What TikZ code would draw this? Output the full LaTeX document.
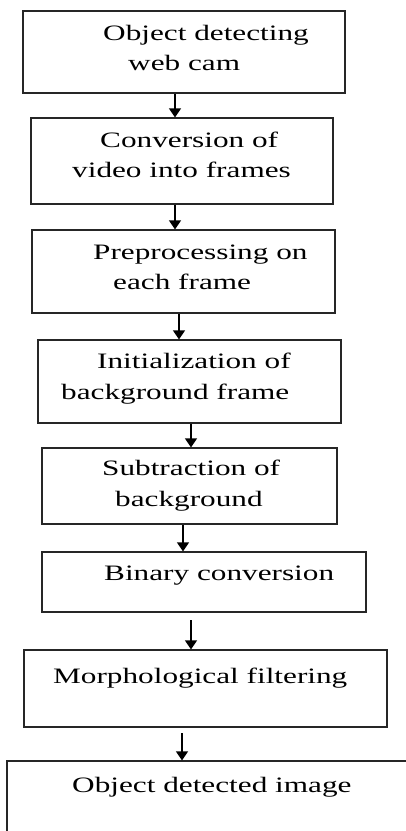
\documentclass[tikz,border=0pt]{standalone}
\usepackage{fontspec}
\setmainfont{Liberation Serif}[FakeStretch=1.42]
\usetikzlibrary{arrows.meta}
\begin{document}
\begin{tikzpicture}[x=1pt,y=-1pt,
  box/.style={draw=black!85, line width=1.2pt, rectangle, inner sep=0pt},
  lbl/.style={anchor=base west, inner sep=0pt, font=\fontsize{22}{26}\selectfont},
  arr/.style={draw=black, line width=1.2pt, -{Triangle[width=12pt,length=9pt]}}]
\clip (0,0) rectangle (406,831);
\useasboundingbox (0,0) rectangle (406,831);

% process boxes
\node[box, minimum width=322pt, minimum height=82pt] (b1) at (184,52) {};
\node[box, minimum width=302pt, minimum height=86pt] (b2) at (182,161) {};
\node[box, minimum width=303pt, minimum height=83pt] (b3) at (183.5,271.5) {};
\node[box, minimum width=303pt, minimum height=83pt] (b4) at (189.5,381.5) {};
\node[box, minimum width=295pt, minimum height=76pt] (b5) at (189.5,486) {};
\node[box, minimum width=324pt, minimum height=60pt] (b6) at (204,582) {};
\node[box, minimum width=363pt, minimum height=77pt] (b7) at (205.5,688.5) {};
\node[box, minimum width=423pt, minimum height=100pt] (b8) at (218.5,811) {};

% labels
\node[lbl] (t1a) at (103,40) {Object detecting};
\node[lbl] (t1b) at (128,70) {web cam};
\node[lbl] (t2a) at (100,147) {Conversion of};
\node[lbl] (t2b) at (72,177) {video into frames};
\node[lbl] (t3a) at (93,259) {Preprocessing on};
\node[lbl] (t3b) at (113,289) {each frame};
\node[lbl] (t4a) at (97,368) {Initialization of};
\node[lbl] (t4b) at (61,399) {background frame};
\node[lbl] (t5a) at (102,475) {Subtraction of};
\node[lbl] (t5b) at (115,506) {background};
\node[lbl] (t6) at (104,580) {Binary conversion};
\node[lbl] (t7) at (53,683) {Morphological filtering};
\node[lbl] (t8) at (72,792) {Object detected image};

% arrow columns
\coordinate (c1) at (175,0);
\coordinate (c3) at (179,0);
\coordinate (c4) at (191,0);
\coordinate (c5) at (183,0);
\coordinate (c7) at (182,0);
\coordinate (s6) at (191,620);
\coordinate (s7) at (182,733);

% connectors
\draw[arr] (b1.south -| c1) -- (b2.north -| c1);
\draw[arr] (b2.south -| c1) -- (b3.north -| c1);
\draw[arr] (b3.south -| c3) -- (b4.north -| c3);
\draw[arr] (b4.south -| c4) -- (b5.north -| c4);
\draw[arr] (b5.south -| c5) -- (b6.north -| c5);
\draw[arr] (s6) -- (b7.north -| s6);
\draw[arr] (s7) -- (b8.north -| s7);
\end{tikzpicture}
\end{document}
